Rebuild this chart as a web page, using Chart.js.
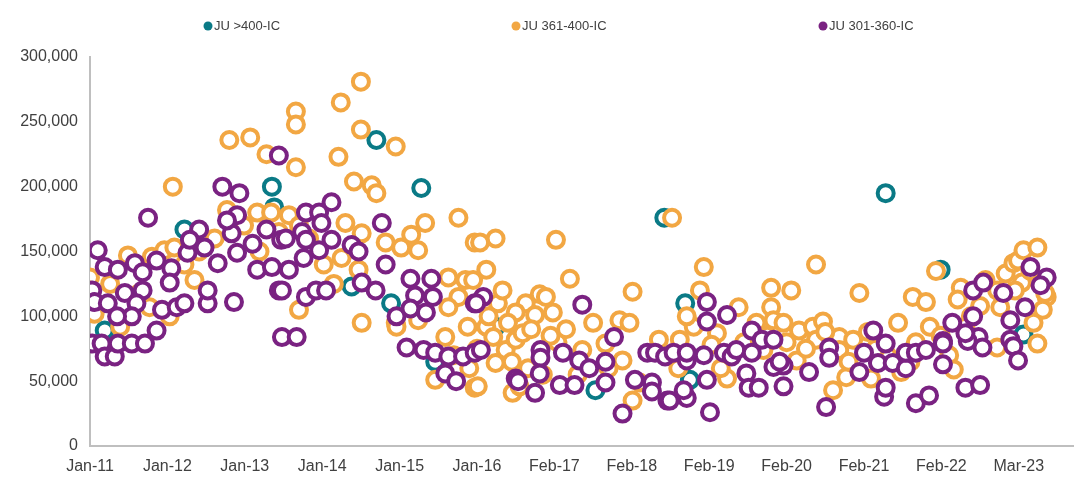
<!DOCTYPE html>
<html>
<head>
<meta charset="utf-8">
<script src="https://cdn.jsdelivr.net/npm/chart.js@4.4.0/dist/chart.umd.min.js"></script>
<style>
  html, body { margin: 0; padding: 0; background: #fff; }
  #wrap { width: 1085px; height: 478px; }
</style>
</head>
<body>
<div id="wrap"><canvas id="chart"></canvas></div>
<script>
// Tick labels on the x axis (one per period step)
const xTickLabels = ['Jan-11', 'Jan-12', 'Jan-13', 'Jan-14', 'Jan-15', 'Jan-16', 'Feb-17',
    'Feb-18', 'Feb-19', 'Feb-20', 'Feb-21', 'Feb-22', 'Mar-23'];

const seriesNames = ['JU >400-IC', 'JU 361-400-IC', 'JU 301-360-IC'];

// [period index, value]
const tealPts = [
    [0.19, 89000], [1.22, 167000], [2.35, 200000], [2.38, 184000], [3.38, 123000], [3.70, 236000],
    [3.89, 110000], [4.28, 199000], [4.46, 65000], [5.24, 92000], [6.53, 43000], [7.42, 176000],
    [7.69, 110000], [7.75, 51000], [10.28, 195000], [10.99, 136000], [12.06, 86000]
];

const orangePts = [
    [0.00, 130000], [0.00, 120000], [0.06, 102000], [0.49, 147000], [0.80, 146000], [0.96, 151000],
    [1.09, 153000], [1.03, 100000], [1.07, 200000], [0.26, 125000], [0.64, 118000], [0.77, 107000],
    [0.39, 92000], [1.22, 140000], [1.35, 128000], [1.41, 150000],
    [1.77, 182000], [1.80, 236000], [2.07, 238000], [2.28, 225000], [2.16, 180000], [2.34, 180000],
    [1.61, 160000], [1.99, 170000], [2.19, 150000], [2.44, 165000], [2.57, 178000], [2.70, 170000],
    [2.83, 160000],
    [2.66, 258000], [2.66, 248000], [2.66, 215000], [3.24, 265000], [3.50, 281000], [3.50, 244000],
    [3.21, 223000], [3.41, 204000], [3.64, 201000], [3.70, 195000], [3.30, 172000], [3.51, 164000],
    [3.25, 145000], [3.47, 136000], [2.70, 105000], [3.51, 95000], [3.82, 157000], [4.02, 153000],
    [4.15, 163000], [4.24, 151000], [3.95, 231000], [4.33, 172000], [4.76, 176000], [4.97, 157000],
    [3.95, 95000], [4.24, 97000], [3.96, 92000], [4.63, 130000], [4.85, 128000], [4.76, 115000],
    [4.63, 107000], [4.88, 92000], [4.59, 84000], [4.46, 51000], [4.97, 45000], [3.02, 140000],
    [3.15, 125000],
    [5.24, 160000], [5.04, 157000], [5.12, 136000], [4.95, 128000], [5.12, 92000], [5.21, 84000],
    [5.37, 74000], [5.50, 82000], [5.59, 87000], [5.24, 64000], [5.01, 46000], [5.46, 41000],
    [5.55, 46000], [5.81, 117000], [5.89, 115000], [5.63, 110000], [5.50, 103000], [5.75, 101000],
    [5.98, 103000], [6.02, 159000], [6.20, 129000], [6.36, 74000], [6.66, 79000], [6.88, 66000],
    [7.01, 35000], [7.10, 49000], [6.84, 97000], [6.97, 95000], [7.01, 119000], [7.35, 82000],
    [7.52, 69000], [7.52, 176000], [5.66, 60000], [5.85, 55000], [6.04, 80000], [5.27, 110000],
    [5.33, 120000],
    [4.70, 70000], [4.90, 60000], [5.15, 100000], [5.40, 95000], [5.70, 90000], [5.95, 85000],
    [6.15, 90000], [6.50, 95000], [6.70, 60000], [5.00, 75000], [5.45, 65000], [6.30, 55000],
    [7.93, 138000], [7.88, 120000], [7.80, 92000], [7.62, 82000], [8.10, 87000], [8.23, 52000],
    [8.38, 107000], [8.80, 122000], [9.06, 120000], [8.80, 107000], [8.83, 97000], [9.38, 140000],
    [8.96, 95000], [9.16, 89000], [9.34, 92000], [9.47, 96000], [8.70, 74000], [9.13, 66000],
    [9.38, 82000], [9.68, 84000], [9.60, 43000], [9.77, 53000], [9.68, 74000], [9.86, 82000],
    [8.61, 95000], [7.71, 100000], [8.03, 78000],
    [7.60, 60000], [8.15, 60000], [8.45, 80000], [8.75, 85000], [9.00, 80000], [9.25, 75000],
    [9.50, 88000], [9.80, 65000], [10.05, 88000], [10.30, 70000], [10.60, 65000], [10.85, 92000],
    [11.10, 70000],
    [9.94, 118000], [10.63, 115000], [10.80, 111000], [10.93, 135000], [10.44, 95000], [10.09, 52000],
    [10.48, 57000], [11.16, 59000], [11.25, 122000], [11.21, 113000], [11.38, 100000], [11.31, 92000],
    [11.72, 120000], [11.76, 107000], [11.72, 76000], [11.57, 128000], [11.83, 133000], [11.93, 141000],
    [11.99, 143000], [12.06, 151000], [12.24, 153000], [12.04, 126000], [12.36, 115000], [12.31, 105000],
    [12.19, 95000], [12.24, 79000], [12.34, 118000], [10.15, 75000], [10.67, 80000], [10.99, 85000],
    [11.50, 108000], [11.95, 120000], [12.15, 135000]
];

const purplePts = [
    [0.10, 151000], [0.19, 138000], [0.36, 136000], [0.58, 141000], [0.86, 143000], [0.68, 134000],
    [1.05, 137000], [0.03, 120000], [0.06, 111000], [0.23, 110000], [0.45, 118000], [0.68, 120000],
    [0.60, 110000], [0.54, 100000], [0.35, 100000], [0.93, 105000], [1.12, 107000], [1.22, 110000],
    [1.03, 126000], [0.03, 79000], [0.15, 79000], [0.19, 69000], [0.32, 69000], [0.36, 79000],
    [0.54, 79000], [0.71, 79000], [0.86, 89000], [0.75, 176000],
    [1.26, 149000], [1.41, 167000], [1.29, 159000], [1.48, 153000], [1.65, 141000], [1.83, 164000],
    [1.90, 178000], [1.77, 174000], [1.90, 149000], [2.10, 156000], [2.28, 167000], [2.16, 136000],
    [2.35, 138000], [2.47, 159000], [2.44, 120000], [1.86, 111000], [1.52, 110000], [1.52, 120000],
    [1.71, 200000], [1.93, 195000], [2.44, 224000],
    [2.48, 84000], [2.67, 84000], [3.12, 188000], [2.79, 180000], [2.96, 180000], [2.99, 172000],
    [2.74, 165000], [2.53, 160000], [2.79, 159000], [3.12, 159000], [2.96, 151000], [2.76, 145000],
    [2.57, 136000], [2.48, 120000], [2.79, 115000], [2.92, 120000], [3.05, 120000], [3.77, 172000],
    [3.38, 155000], [3.47, 150000], [3.82, 140000], [3.51, 126000], [3.69, 120000],
    [4.14, 129000], [4.41, 129000], [4.20, 116000], [4.43, 115000], [3.96, 100000], [4.14, 106000],
    [4.34, 103000], [4.09, 76000], [4.31, 74000], [4.46, 72000], [4.63, 69000], [4.82, 69000],
    [4.59, 56000], [4.73, 50000], [4.97, 72000], [4.97, 110000],
    [5.08, 115000], [4.99, 110000], [5.05, 74000], [5.82, 74000], [5.82, 68000], [6.11, 72000],
    [6.32, 66000], [6.45, 60000], [6.66, 65000], [5.50, 52000], [5.53, 50000], [5.81, 56000],
    [5.75, 41000], [6.07, 47000], [6.26, 47000], [6.66, 49000], [6.36, 109000], [6.77, 84000],
    [6.88, 25000], [7.04, 51000], [7.26, 49000], [7.20, 72000], [7.30, 72000], [7.43, 69000],
    [7.46, 35000], [7.26, 42000],
    [7.97, 111000], [7.97, 96000], [8.23, 101000], [7.71, 66000], [7.93, 70000], [8.19, 72000],
    [8.29, 69000], [8.35, 74000], [8.55, 89000], [8.55, 72000], [8.68, 82000], [8.83, 82000],
    [8.96, 62000], [8.83, 61000], [8.48, 56000], [8.51, 45000], [8.64, 45000], [8.96, 46000],
    [7.97, 51000], [7.71, 37000], [8.01, 26000], [7.49, 35000], [7.67, 43000], [7.54, 72000],
    [7.71, 72000], [8.91, 65000],
    [9.29, 57000], [9.51, 30000], [9.55, 76000], [9.55, 68000], [9.94, 57000], [10.00, 72000],
    [10.12, 89000], [10.28, 79000], [10.18, 64000], [10.37, 64000], [10.54, 60000], [10.54, 72000],
    [10.67, 72000], [10.80, 74000], [11.02, 81000], [11.02, 63000], [10.26, 38000], [10.28, 45000],
    [10.67, 33000], [10.84, 39000],
    [11.14, 95000], [11.31, 45000], [11.50, 47000], [11.41, 100000], [11.48, 84000], [11.53, 76000],
    [11.34, 81000], [11.41, 120000], [11.54, 126000], [11.80, 118000], [11.89, 97000], [12.08, 107000],
    [11.89, 82000], [11.93, 77000], [11.99, 66000], [12.15, 138000], [12.36, 130000], [12.28, 124000],
    [11.02, 79000], [11.31, 87000]
];

const colors = ['#0a7a86', '#f2a743', '#7a2282'];
const textColor = '#404040';
const fontFamily = '"Liberation Sans", Arial, sans-serif';

function toXY(pts) {
    return pts.map(p => ({ x: p[0], y: p[1] }));
}

function ringSet(label, pts, color, order) {
    return {
        label: label,
        data: toXY(pts),
        borderColor: color,
        backgroundColor: '#ffffff',
        pointRadius: 8,
        pointHoverRadius: 8,
        pointBorderWidth: 4,
        order: order
    };
}

// Legend drawn across the top with wide gaps, like the original
const legendDotX = [208, 516, 823];
const topLegend = {
    id: 'topLegend',
    afterDraw(chart) {
        const ctx = chart.ctx;
        ctx.save();
        ctx.font = '13px ' + fontFamily;
        ctx.textBaseline = 'middle';
        chart.data.datasets.forEach((ds, i) => {
            ctx.beginPath();
            ctx.arc(legendDotX[i], 26, 4.5, 0, Math.PI * 2);
            ctx.fillStyle = ds.borderColor;
            ctx.fill();
            ctx.fillStyle = textColor;
            ctx.fillText(ds.label, legendDotX[i] + 6, 26);
        });
        ctx.restore();
    }
};

new Chart(document.getElementById('chart').getContext('2d'), {
    type: 'scatter',
    data: {
        datasets: [
            ringSet(seriesNames[0], tealPts, colors[0], 2),
            ringSet(seriesNames[1], orangePts, colors[1], 1),
            ringSet(seriesNames[2], purplePts, colors[2], 0)
        ]
    },
    options: {
        responsive: true,
        maintainAspectRatio: false,
        animation: false,
        layout: { padding: { top: 57, right: 7, left: 0, bottom: 0 } },
        plugins: {
            legend: { display: false },
            tooltip: { enabled: false }
        },
        scales: {
            x: {
                type: 'linear',
                min: 0,
                max: 12.7,
                grid: { display: false, drawTicks: false },
                border: { color: '#bfbfbf', width: 2 },
                // one tick per label, nothing at the axis end
                afterBuildTicks(scale) {
                    scale.ticks = xTickLabels.map((_, i) => ({ value: i }));
                },
                ticks: {
                    autoSkip: false,
                    maxRotation: 0,
                    padding: 11,
                    color: textColor,
                    font: { family: fontFamily, size: 16 },
                    callback: v => xTickLabels[Math.round(v)] || ''
                },
                afterFit(scale) { scale.height = 32; }
            },
            y: {
                min: 0,
                max: 300000,
                grid: { display: false, drawTicks: false },
                border: { color: '#bfbfbf', width: 2 },
                ticks: {
                    stepSize: 50000,
                    padding: 12,
                    color: textColor,
                    font: { family: fontFamily, size: 16 },
                    callback: v => v.toLocaleString('en-US')
                },
                afterFit(scale) { scale.width = 90; }
            }
        }
    },
    plugins: [topLegend]
});
</script>
</body>
</html>
